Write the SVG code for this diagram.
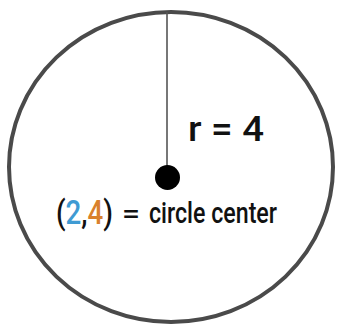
<svg xmlns="http://www.w3.org/2000/svg" width="337" height="328" viewBox="0 0 337 328">
  <style>
    .lbl { font-family: Roboto, "Liberation Sans", Arial, sans-serif; font-weight: 500; fill: #111; }
    .blue { fill: #3f9bd3; }
    .orange { fill: #d9812c; }
  </style>
  <rect width="337" height="328" fill="#ffffff"/>
  <g id="circle">
    <ellipse cx="171" cy="167" rx="162" ry="155" fill="none" stroke="#4a4a4a" stroke-width="4"/>
  </g>
  <g id="connectors">
    <line x1="167" y1="12" x2="167" y2="177" stroke="#555" stroke-width="1.6"/>
  </g>
  <g id="center-point">
    <circle cx="167.5" cy="177.5" r="12.5" fill="#000"/>
  </g>
  <g id="radius-label">
    <text class="lbl" x="188" y="141" font-size="35" textLength="76" lengthAdjust="spacingAndGlyphs">r = 4</text>
  </g>
  <g id="center-label">
    <text class="lbl" x="56" y="224" font-size="34" textLength="57" lengthAdjust="spacingAndGlyphs">(<tspan class="blue">2</tspan>,<tspan class="orange">4</tspan>)</text>
    <text class="lbl" x="122" y="223" font-size="26" textLength="18" lengthAdjust="spacingAndGlyphs">=</text>
    <text class="lbl" x="149" y="223" font-size="30" textLength="128" lengthAdjust="spacingAndGlyphs">circle center</text>
  </g>
</svg>
